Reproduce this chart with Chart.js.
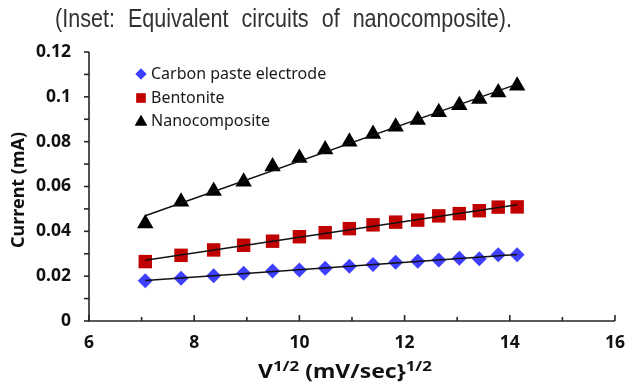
<!DOCTYPE html>
<html>
<head>
<meta charset="utf-8">
<script src="https://cdn.jsdelivr.net/npm/chart.js@4.4.1/dist/chart.umd.min.js"></script>
<style>
  html, body { margin: 0; padding: 0; background: #fff; }
  #wrap { width: 637px; height: 383px; }
</style>
</head>
<body>
<div id="wrap"><canvas id="cvChart" width="637" height="383"></canvas></div>
<script>
// square root of scan rate, (mV/sec)^1/2
const xValues = [7.07, 7.75, 8.37, 8.94, 9.49, 10.00, 10.49, 10.95, 11.40, 11.83, 12.25, 12.65, 13.04, 13.42, 13.78, 14.14];

// peak current, mA
const carbonPaste = [0.0179, 0.0191, 0.0202, 0.0213, 0.0223, 0.0228, 0.0235, 0.0244, 0.0252, 0.0262, 0.0266, 0.0272, 0.0280, 0.0278, 0.0296, 0.0296];
const bentonite = [0.0265, 0.0293, 0.0317, 0.0338, 0.0356, 0.0376, 0.0394, 0.0412, 0.0429, 0.0441, 0.0450, 0.0469, 0.0479, 0.0492, 0.0508, 0.0509];
const nanocomposite = [0.0435, 0.0532, 0.0580, 0.0621, 0.0689, 0.0727, 0.0765, 0.0800, 0.0834, 0.0867, 0.0897, 0.0931, 0.0962, 0.0990, 0.1019, 0.1050];

const seriesNames = ['Carbon paste electrode', 'Bentonite', 'Nanocomposite'];
const yTicks = [0, 0.02, 0.04, 0.06, 0.08, 0.1, 0.12];
const xTicks = [6, 8, 10, 12, 14, 16];

const captionText = '(Inset: Equivalent circuits of nanocomposite).';

const sans = "'Noto Sans', 'DejaVu Sans', sans-serif";
const tickFont = { family: sans, size: 17.5, weight: 'bold' };

function toPoints(ys) {
    return xValues.map((x, i) => ({ x: x, y: ys[i] }));
}

// least-squares trend line between first and last x
function trendLine(ys) {
    const n = xValues.length;
    let sx = 0, sy = 0, sxx = 0, sxy = 0;
    for (let i = 0; i < n; i++) {
        sx += xValues[i]; sy += ys[i];
        sxx += xValues[i] * xValues[i]; sxy += xValues[i] * ys[i];
    }
    const m = (n * sxy - sx * sy) / (n * sxx - sx * sx);
    const b = (sy - m * sx) / n;
    const x0 = xValues[0], x1 = xValues[n - 1];
    return [{ x: x0, y: m * x0 + b }, { x: x1, y: m * x1 + b }];
}

const markerStyles = [
    { pointStyle: 'rectRot', color: '#3f3fff', radius: 7.5 },
    { pointStyle: 'rect', color: '#c00000', radius: 9.5 },
    { pointStyle: 'triangle', color: '#000000', radius: 9.5 }
];
const seriesData = [carbonPaste, bentonite, nanocomposite];

const datasets = [];
seriesData.forEach((ys, i) => {
    datasets.push({
        type: 'line',
        label: seriesNames[i] + ' fit',
        data: trendLine(ys),
        borderColor: '#111',
        borderWidth: 1.5,
        pointRadius: 0,
        fill: false,
        order: 0
    });
});
seriesData.forEach((ys, i) => {
    const s = markerStyles[i];
    datasets.push({
        type: 'scatter',
        label: seriesNames[i],
        data: toPoints(ys),
        pointStyle: s.pointStyle,
        pointRadius: s.radius,
        pointBackgroundColor: s.color,
        pointBorderColor: s.color,
        pointBorderWidth: 0,
        order: 1
    });
});

// draws text pieces squeezed or stretched to fill a given width
function fitText(c, parts, x0, baseline, width) {
    let natural = 0;
    parts.forEach(p => { c.font = p.f; p.w = c.measureText(p.t).width; natural += p.w; });
    const k = width / natural;
    let px = x0;
    parts.forEach(p => {
        c.save();
        c.font = p.f;
        c.translate(px, baseline + (p.dy || 0));
        c.scale(k, 1);
        c.fillText(p.t, 0, 0);
        c.restore();
        px += p.w * k;
    });
}

const decorPlugin = {
    id: 'decor',
    beforeDraw(chart) {
        const c = chart.ctx;
        c.save();
        c.fillStyle = '#fff';
        c.fillRect(0, 0, chart.width, chart.height);
        c.restore();
    },
    afterDraw(chart) {
        const c = chart.ctx;
        const xs = chart.scales.x, ys = chart.scales.y;
        const area = chart.chartArea;
        c.save();

        // axes
        c.strokeStyle = '#262626';
        c.lineWidth = 1.6;
        c.beginPath();
        c.moveTo(area.left, area.top);
        c.lineTo(area.left, area.bottom);
        c.lineTo(area.right, area.bottom);
        c.stroke();

        // x ticks point inward, longer on labelled values
        for (let v = 6; v <= 16; v++) {
            const px = xs.getPixelForValue(v);
            const len = v % 2 === 0 ? 6 : 4;
            c.beginPath();
            c.moveTo(px, area.bottom);
            c.lineTo(px, area.bottom - len);
            c.stroke();
        }
        // y ticks point outward, every 0.01
        for (let k = 0; k <= 12; k++) {
            const py = ys.getPixelForValue(k / 100);
            c.beginPath();
            c.moveTo(area.left, py);
            c.lineTo(area.left - 5, py);
            c.stroke();
        }

        // legend
        c.font = "16px " + sans;
        c.textBaseline = 'middle';
        c.textAlign = 'left';
        const legY = [74, 98, 121];
        const legSize = [5.5, 6.5, 7];
        seriesNames.forEach((name, i) => {
            const s = markerStyles[i];
            c.fillStyle = s.color;
            c.beginPath();
            Chart.helpers.drawPoint(c, { pointStyle: s.pointStyle, radius: legSize[i], borderWidth: 0 }, 141, legY[i] + (i === 2 ? 1 : 0));
            c.fill();
            c.fillStyle = '#1a1a1a';
            c.fillText(name, 151, legY[i]);
        });

        // y axis title
        c.save();
        c.translate(19, 190);
        c.rotate(-Math.PI / 2);
        c.font = "bold 18px " + sans;
        c.textAlign = 'center';
        c.fillStyle = '#111';
        c.fillText('Current (mA)', 0, 0);
        c.restore();

        // x axis title with superscripts
        const big = "bold 19px " + sans;
        const small = "bold 14px " + sans;
        c.fillStyle = '#111';
        c.textBaseline = 'alphabetic';
        fitText(c, [
            { t: 'V', f: big },
            { t: '1/2', f: small, dy: -7 },
            { t: ' (mV/sec}', f: big },
            { t: '1/2', f: small, dy: -7 }
        ], 258, 378, 174);

        // caption, condensed and spread across its line
        c.font = "25px 'Liberation Sans', 'DejaVu Sans', sans-serif";
        c.fillStyle = '#333';
        const words = captionText.split(' ');
        const left = 55, right = 512, gap = 13;
        const wordW = words.map(w => c.measureText(w).width);
        const sum = wordW.reduce((a, b) => a + b, 0);
        const k = (right - left - gap * (words.length - 1)) / sum;
        let wx = left;
        words.forEach((w, i) => {
            c.save();
            c.translate(wx, 27);
            c.scale(k, 1);
            c.fillText(w, 0, 0);
            c.restore();
            wx += wordW[i] * k + gap;
        });

        c.restore();
    }
};

const ctx = document.getElementById('cvChart').getContext('2d');

const chart = new Chart(ctx, {
    data: { datasets: datasets },
    options: {
        responsive: false,
        animation: false,
        layout: { padding: { left: 0, right: 12, top: 52, bottom: 0 } },
        plugins: {
            legend: { display: false },
            tooltip: { enabled: false }
        },
        scales: {
            x: {
                type: 'linear',
                min: 6,
                max: 16,
                afterBuildTicks(scale) {
                    scale.ticks = xTicks.map(v => ({ value: v }));
                },
                afterFit(scale) { scale.height = 62; },
                grid: { display: false, drawTicks: false },
                border: { display: false },
                ticks: { font: tickFont, color: '#111', padding: 12, maxRotation: 0 }
            },
            y: {
                type: 'linear',
                min: 0,
                max: 0.12,
                afterBuildTicks(scale) {
                    scale.ticks = yTicks.map(v => ({ value: v }));
                },
                afterFit(scale) { scale.width = 89; },
                grid: { display: false, drawTicks: false },
                border: { display: false },
                ticks: {
                    font: tickFont,
                    color: '#111',
                    padding: 18,
                    callback: v => String(Number(v.toFixed(2)))
                }
            }
        }
    },
    plugins: [decorPlugin]
});
</script>
</body>
</html>
